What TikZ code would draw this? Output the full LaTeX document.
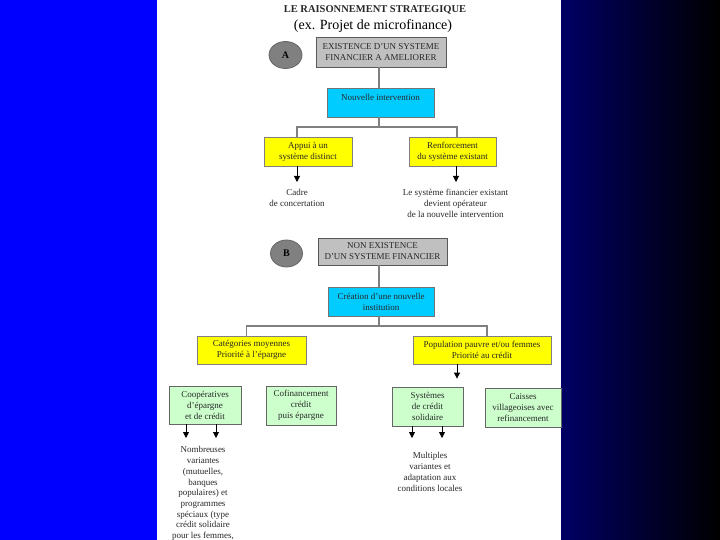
\documentclass[tikz,border=0pt]{standalone}
\usepackage{fontspec}
\setmainfont{Liberation Serif}
\usetikzlibrary{arrows.meta,shapes.geometric}
\definecolor{bgblue}{RGB}{0,0,255}
\definecolor{bgnavy}{RGB}{0,0,100}
\definecolor{boxgray}{RGB}{192,192,192}
\definecolor{boxcyan}{RGB}{0,204,255}
\definecolor{boxyellow}{RGB}{255,255,0}
\definecolor{boxgreen}{RGB}{204,255,204}
\definecolor{linegray}{RGB}{128,128,128}
\definecolor{circgray}{RGB}{128,128,128}
\definecolor{txtdark}{RGB}{40,40,40}
\tikzset{
  basebox/.style={rectangle, inner sep=0pt, align=center, line width=0.8pt,
    font=\fontsize{9}{11}\selectfont, text=txtdark},
  graybox/.style={basebox, fill=boxgray, draw=black!65},
  cyanbox/.style={basebox, fill=boxcyan, draw=black!55},
  yellowbox/.style={basebox, fill=boxyellow, draw=black!50},
  greenbox/.style={basebox, fill=boxgreen, draw=black!60},
  circ/.style={ellipse, inner sep=0pt, fill=circgray, draw=black!60, line width=0.8pt,
    font=\fontsize{10}{12}\selectfont\bfseries},
  conn/.style={draw=linegray, line width=1.1pt},
  arr/.style={draw=black, line width=0.8pt, -{Triangle[width=6pt,length=6pt]}},
  note/.style={inner sep=0pt, align=center, font=\fontsize{9}{10.8}\selectfont, text=txtdark, anchor=north},
}
\begin{document}
\begin{tikzpicture}[x=1pt,y=-1pt]
\useasboundingbox (0,0) rectangle (720,540);
% background
\fill[bgblue] (0,0) rectangle (157,540);
\fill[white] (157,0) rectangle (561,540);
\shade[left color=bgnavy, right color=black] (561,0) rectangle (720,540);

% titles
\node[anchor=base, inner sep=0pt, font=\fontsize{10.5}{12}\selectfont\bfseries, text=txtdark] (title) at (375,12.7) {LE RAISONNEMENT STRATEGIQUE};
\node[anchor=base, inner sep=0pt, font=\fontsize{14}{16}\selectfont] (sub) at (373,30) {(ex. Projet de microfinance)};

% ---------- Part A ----------
\node[circ, minimum width=33pt, minimum height=27pt] (cA) at (285.5,55) {A};
\node[graybox, minimum width=130pt, minimum height=30pt] (gA) at (381,52) {EXISTENCE D’UN SYSTEME\\FINANCIER A AMELIORER};
\node[cyanbox, minimum width=107pt, minimum height=29pt] (nA) at (380.5,102.5) {Nouvelle intervention\\\mbox{}};
\node[yellowbox, minimum width=88pt, minimum height=29pt] (yA1) at (308,151.5) {Appui à un\\système distinct};
\node[yellowbox, minimum width=87pt, minimum height=29pt] (yA2) at (452.5,151.5) {Renforcement\\du système existant};
\coordinate (jA) at (379,127);
\node[note] (tA1) at (297,189) {Cadre\\de concertation};
\node[note] (tA2) at (455.5,189) {Le système financier existant\\devient opérateur\\de la nouvelle intervention};

\draw[conn] (gA.south -| jA) -- (nA.north -| jA);
\draw[conn] (nA.south -| jA) -- (jA);
\draw[conn] (jA) -| ([xshift=-11pt]yA1.north);
\draw[conn] (jA) -| ([xshift=4.5pt]yA2.north);
\draw[arr, shorten >=7pt] ([xshift=-11pt]yA1.south) -- ([xshift=-11pt]yA1.south |- tA1.north);
\draw[arr, shorten >=7pt] ([xshift=3.5pt]yA2.south) -- ([xshift=3.5pt]yA2.south |- tA2.north);

% ---------- Part B ----------
\node[circ, minimum width=32pt, minimum height=27pt] (cB) at (286.5,253.5) {B};
\node[graybox, minimum width=129pt, minimum height=27pt] (gB) at (382.5,251.5) {NON EXISTENCE\\D’UN SYSTEME FINANCIER};
\node[cyanbox, minimum width=106pt, minimum height=29pt] (nB) at (381,301.5) {Création d’une nouvelle\\institution};
\node[yellowbox, minimum width=109pt, minimum height=28pt] (yB1) at (251.5,350) {Catégories moyennes\\Priorité à l’épargne};
\node[yellowbox, minimum width=138pt, minimum height=28pt] (yB2) at (482,350) {Population pauvre et/ou femmes\\Priorité au crédit};
\coordinate (jB) at (379,326);

\node[greenbox, minimum width=72pt, minimum height=38pt] (gr1) at (205,405) {Coopératives\\d’épargne\\et de crédit};
\node[greenbox, minimum width=70pt, minimum height=39pt] (gr2) at (301,405.5) {Cofinancement\\crédit\\puis épargne};
\node[greenbox, minimum width=71pt, minimum height=39pt] (gr3) at (427.5,406.5) {Systèmes\\de crédit\\solidaire};
\node[greenbox, minimum width=76pt, minimum height=39pt] (gr4) at (523,407.5) {Caisses\\villageoises avec\\refinancement};

\node[note, font=\fontsize{9}{10.7}\selectfont] (tB1) at (203,446.5) {Nombreuses\\variantes\\(mutuelles,\\banques\\populaires) et\\programmes\\spéciaux (type\\crédit solidaire\\pour les femmes,};
\node[note, font=\fontsize{9}{10.7}\selectfont] (tB2) at (430,452.5) {Multiples\\variantes et\\adaptation aux\\conditions locales};

\draw[conn] (gB.south -| jB) -- (nB.north -| jB);
\draw[conn] (nB.south -| jB) -- (jB);
\draw[conn] (jB) -| ([xshift=-5pt]yB1.north);
\draw[conn] (jB) -| ([xshift=5pt]yB2.north);
\draw[arr, shorten >=8pt] ([xshift=-25pt]yB2.south) -- ([xshift=-25pt]yB2.south |- gr3.north);

\draw[arr, shorten >=8.5pt] ([xshift=-19pt]gr1.south) -- ([xshift=-19pt]gr1.south |- tB1.north);
\draw[arr, shorten >=8.5pt] ([xshift=11pt]gr1.south) -- ([xshift=11pt]gr1.south |- tB1.north);
\draw[arr, shorten >=14.5pt] ([xshift=-15.5pt]gr3.south) -- ([xshift=-15.5pt]gr3.south |- tB2.north);
\draw[arr, shorten >=14.5pt] ([xshift=14.5pt]gr3.south) -- ([xshift=14.5pt]gr3.south |- tB2.north);
\end{tikzpicture}
\end{document}
